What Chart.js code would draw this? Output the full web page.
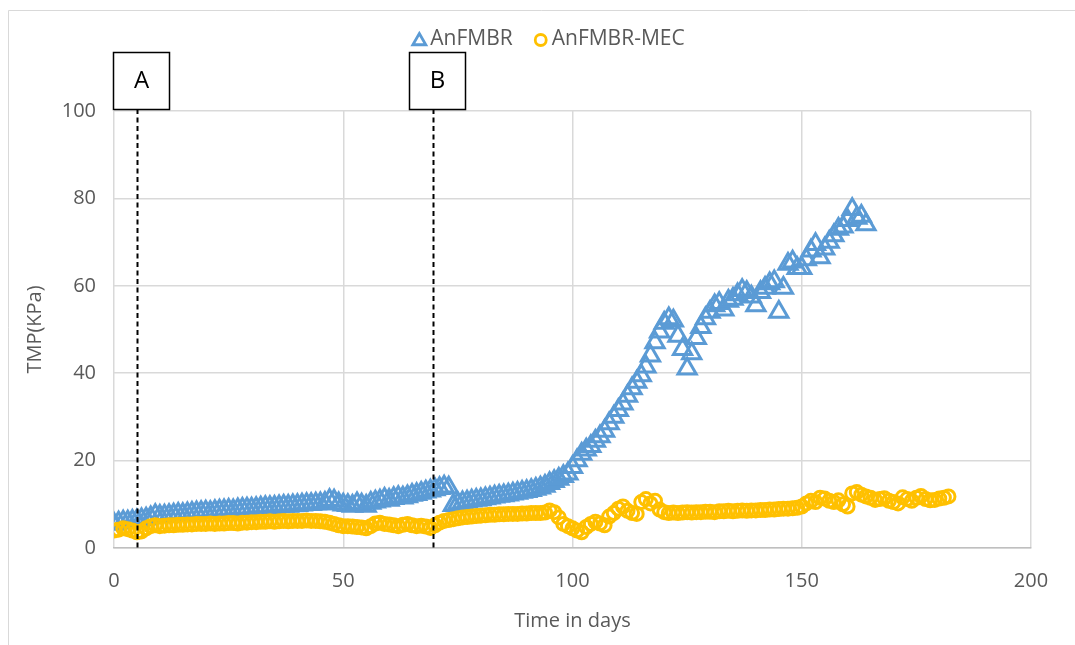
<!DOCTYPE html>
<html>
<head>
<meta charset="utf-8">
<script src="https://cdn.jsdelivr.net/npm/chart.js@4/dist/chart.umd.min.js"></script>
<style>
  html, body { margin: 0; padding: 0; background: #ffffff; }
  #wrap { position: relative; width: 1075px; height: 645px; }
</style>
</head>
<body>
<div id="wrap"><canvas id="c" width="1075" height="645"></canvas></div>
<script>
// ---- Data ----
const seriesNames = ['AnFMBR', 'AnFMBR-MEC'];
const firstDay = 0; // both series are daily readings starting on day 0

// AnFMBR TMP (kPa), days 0..164
const anfmbrTMP = [
  5.5, 5.8, 6.0, 6.0, 6.2, 6.3, 6.5, 6.7, 7.0, 7.5,
  7.3, 7.4, 7.5, 7.6, 7.8, 7.7, 7.9, 8.0, 8.1, 8.2,
  8.3, 8.2, 8.4, 8.5, 8.6, 8.7, 8.6, 8.8, 8.9, 9.0,
  9.0, 9.1, 9.2, 9.3, 9.3, 9.4, 9.5, 9.6, 9.6, 9.7,
  9.8, 9.9, 10.0, 10.0, 10.1, 10.2, 10.3, 10.9, 10.8, 10.2,
  9.9, 9.8, 9.6, 10.2, 9.9, 9.6, 10.3, 10.6, 10.8, 11.2,
  11.0, 11.4, 11.6, 11.5, 11.8, 12.1, 12.3, 12.6, 12.9, 13.1,
  13.4, 13.7, 14.0, 13.8, 9.8, 10.2, 10.4, 10.6, 10.8, 11.0,
  11.1, 11.3, 11.5, 11.7, 11.9, 12.0, 12.2, 12.4, 12.6, 12.8,
  13.0, 13.2, 13.5, 13.8, 14.2, 14.8, 15.3, 15.8, 16.4, 17.0,
  18.5, 20.0, 21.5, 22.5, 23.3, 24.5, 25.5, 26.8, 28.5, 30.0,
  31.5, 33.0, 34.8, 36.5, 38.0, 39.5, 41.5, 44.0, 47.0, 49.5,
  51.5, 52.5, 52.0, 48.5, 45.5, 41.0, 44.5, 48.0, 50.5, 52.5,
  54.0, 55.5, 56.0, 54.5, 56.5, 57.0, 58.0, 59.0, 58.5, 57.5,
  55.5, 58.5, 59.5, 60.5, 61.0, 54.0, 59.5, 65.0, 65.5, 64.0,
  64.0, 66.0, 68.0, 69.5, 66.5, 68.5, 70.0, 71.5, 73.0, 73.5,
  75.0, 77.5, 75.5, 76.0, 74.0
];

// AnFMBR-MEC TMP (kPa), days 0..182
const mecTMP = [
  4.0, 4.2, 4.5, 4.3, 4.0, 3.6, 3.8, 4.5, 5.0, 5.2,
  5.0, 5.1, 5.2, 5.2, 5.3, 5.3, 5.4, 5.4, 5.5, 5.5,
  5.5, 5.6, 5.5, 5.6, 5.6, 5.7, 5.7, 5.6, 5.8, 5.8,
  5.9, 5.9, 6.0, 6.0, 6.1, 6.0, 6.1, 6.2, 6.1, 6.2,
  6.2, 6.2, 6.3, 6.2, 6.2, 6.1, 6.0, 5.8, 5.5, 5.2,
  5.0, 5.0, 4.9, 4.8, 4.7, 4.5, 5.0, 5.6, 5.8, 5.5,
  5.4, 5.2, 5.0, 5.3, 5.5, 5.2, 5.0, 5.1, 4.9, 4.6,
  5.2, 5.8, 6.2, 6.4, 6.6, 6.8, 7.0, 7.1, 7.2, 7.3,
  7.4, 7.5, 7.6, 7.6, 7.7, 7.7, 7.8, 7.8, 7.8, 7.9,
  7.9, 8.0, 8.0, 8.0, 8.1, 8.6, 8.2, 7.0, 5.5, 5.0,
  4.5, 4.0, 3.6, 4.8, 5.5, 6.0, 5.6, 5.2, 7.2, 8.0,
  9.0, 9.5, 8.5, 8.0, 7.8, 10.5, 11.2, 10.2, 10.8, 8.8,
  8.2, 8.0, 8.1, 8.0, 8.1, 8.2, 8.1, 8.2, 8.2, 8.3,
  8.3, 8.2, 8.4, 8.4, 8.5, 8.4, 8.5, 8.6, 8.5, 8.6,
  8.6, 8.7, 8.7, 8.8, 8.8, 8.9, 9.0, 9.0, 9.1, 9.2,
  9.5, 10.2, 10.8, 10.5, 11.5, 11.3, 10.8, 10.5, 10.9, 10.0,
  9.5, 12.5, 12.8, 12.2, 11.8, 11.5, 11.0, 11.2, 11.4, 10.8,
  10.5, 10.2, 11.6, 11.2, 10.8, 11.5, 11.9, 11.2, 10.9, 11.0,
  11.3, 11.5, 11.8
];

// Phase markers
const phaseDays = [5, 69.5];
const phaseLabels = ['A', 'B'];

// Axis ticks
const xTicks = [0, 50, 100, 150, 200];
const yTicks = [0, 20, 40, 60, 80, 100];
const xTitle = 'Time in days';
const yTitle = 'TMP(KPa)';

// ---- Build library data ----
function toPoints(values) {
  return values.map((v, i) => ({ x: firstDay + i, y: v }));
}

const BLUE = '#5B9BD5';
const GOLD = '#FFC000';
const TXT = '#595959';
const FONT = "'Open Sans', 'Liberation Sans', sans-serif";

const frame = {
  id: 'frame',
  beforeDraw(chart) {
    const ctx = chart.ctx;
    ctx.save();
    ctx.fillStyle = '#ffffff';
    ctx.fillRect(0, 0, chart.width, chart.height);
    ctx.strokeStyle = '#d9d9d9';
    ctx.lineWidth = 1;
    ctx.beginPath();
    ctx.moveTo(8.5, chart.height);
    ctx.lineTo(8.5, 10.5);
    ctx.lineTo(chart.width, 10.5);
    ctx.stroke();
    ctx.restore();
  }
};

const phases = {
  id: 'phases',
  afterDatasetsDraw(chart) {
    const ctx = chart.ctx;
    const xs = chart.scales.x;
    const area = chart.chartArea;
    const boxTop = 52, boxH = 57, boxW = 56, boxOff = 25;
    ctx.save();
    phaseDays.forEach((d, i) => {
      const px = Math.round(xs.getPixelForValue(d)) + 0.5;
      ctx.strokeStyle = '#000000';
      ctx.lineWidth = 2;
      ctx.setLineDash([5, 3.5]);
      ctx.beginPath();
      ctx.moveTo(px, boxTop + boxH);
      ctx.lineTo(px, area.bottom);
      ctx.stroke();
      ctx.setLineDash([]);
      const bx = Math.round(px - boxOff) + 0.5;
      ctx.fillStyle = '#ffffff';
      ctx.fillRect(bx, boxTop + 0.5, boxW, boxH);
      ctx.lineWidth = 1.5;
      ctx.strokeRect(bx, boxTop + 0.5, boxW, boxH);
      ctx.fillStyle = '#000000';
      ctx.font = "24px " + FONT;
      ctx.textAlign = 'center';
      ctx.textBaseline = 'middle';
      ctx.fillText(phaseLabels[i], bx + boxW / 2, boxTop + boxH / 2 + 1);
    });
    ctx.restore();
  }
};

const legendPlugin = {
  id: 'customLegend',
  afterDraw(chart) {
    const ctx = chart.ctx;
    ctx.save();
    ctx.font = "21px " + FONT;
    const ds = chart.data.datasets;
    const widths = ds.map(d => ctx.measureText(d.label).width);
    const markerW = 17, gap = 22;
    let total = 0;
    widths.forEach((w, i) => { total += markerW + w + (i < widths.length - 1 ? gap : 0); });
    let x = 549 - total / 2;
    const y = 39;
    ds.forEach((d, i) => {
      ctx.strokeStyle = d.borderColor;
      ctx.fillStyle = 'rgba(0,0,0,0)';
      ctx.lineWidth = 2.8;
      const r = d.pointStyle === 'triangle' ? 7.5 : 5.5;
      const cy = d.pointStyle === 'triangle' ? y + 2 : y + 1;
      Chart.helpers.drawPoint(ctx, { pointStyle: d.pointStyle, rotation: 0, radius: r, borderWidth: 2.8 }, x + 6, cy);
      ctx.fillStyle = TXT;
      ctx.textAlign = 'left';
      ctx.textBaseline = 'middle';
      ctx.fillText(d.label, x + markerW, y);
      x += markerW + widths[i] + gap;
    });
    ctx.restore();
  }
};

new Chart(document.getElementById('c'), {
  type: 'scatter',
  data: {
    datasets: [
      {
        label: seriesNames[0],
        data: toPoints(anfmbrTMP),
        pointStyle: 'triangle',
        pointRadius: 10.5,
        pointBorderWidth: 3,
        borderColor: BLUE,
        backgroundColor: 'rgba(0,0,0,0)',
        showLine: false,
        order: 2
      },
      {
        label: seriesNames[1],
        data: toPoints(mecTMP),
        pointStyle: 'circle',
        pointRadius: 6.5,
        pointBorderWidth: 3,
        borderColor: GOLD,
        backgroundColor: 'rgba(0,0,0,0)',
        showLine: false,
        order: 1
      }
    ]
  },
  options: {
    responsive: false,
    animation: false,
    events: [],
    layout: { padding: { left: 18, right: 44, top: 111, bottom: 0 } },
    plugins: {
      legend: { display: false },
      tooltip: { enabled: false }
    },
    scales: {
      x: {
        type: 'linear',
        min: 0, max: 200,
        afterBuildTicks: (s) => { s.ticks = xTicks.map(v => ({ value: v })); },
        afterFit: (s) => { s.height = 97; },
        grid: { color: '#d9d9d9', lineWidth: 1.5, drawTicks: false },
        border: { display: true, color: '#bfbfbf', width: 1.5 },
        ticks: { color: TXT, font: { family: FONT, size: 20 }, padding: 21, maxRotation: 0 },
        title: { display: true, text: xTitle, color: TXT, font: { family: FONT, size: 20 }, padding: { top: 0, bottom: 12 } }
      },
      y: {
        type: 'linear',
        min: 0, max: 100,
        afterBuildTicks: (s) => { s.ticks = yTicks.map(v => ({ value: v })); },
        afterFit: (s) => { s.width = 96; },
        grid: { color: '#d9d9d9', lineWidth: 1.5, drawTicks: false },
        border: { display: false },
        ticks: { color: TXT, font: { family: FONT, size: 20 }, padding: 18 },
        title: { display: true, text: yTitle, color: TXT, font: { family: FONT, size: 20 }, padding: { top: 5, bottom: 0 } }
      }
    }
  },
  plugins: [frame, phases, legendPlugin]
});
</script>
</body>
</html>
